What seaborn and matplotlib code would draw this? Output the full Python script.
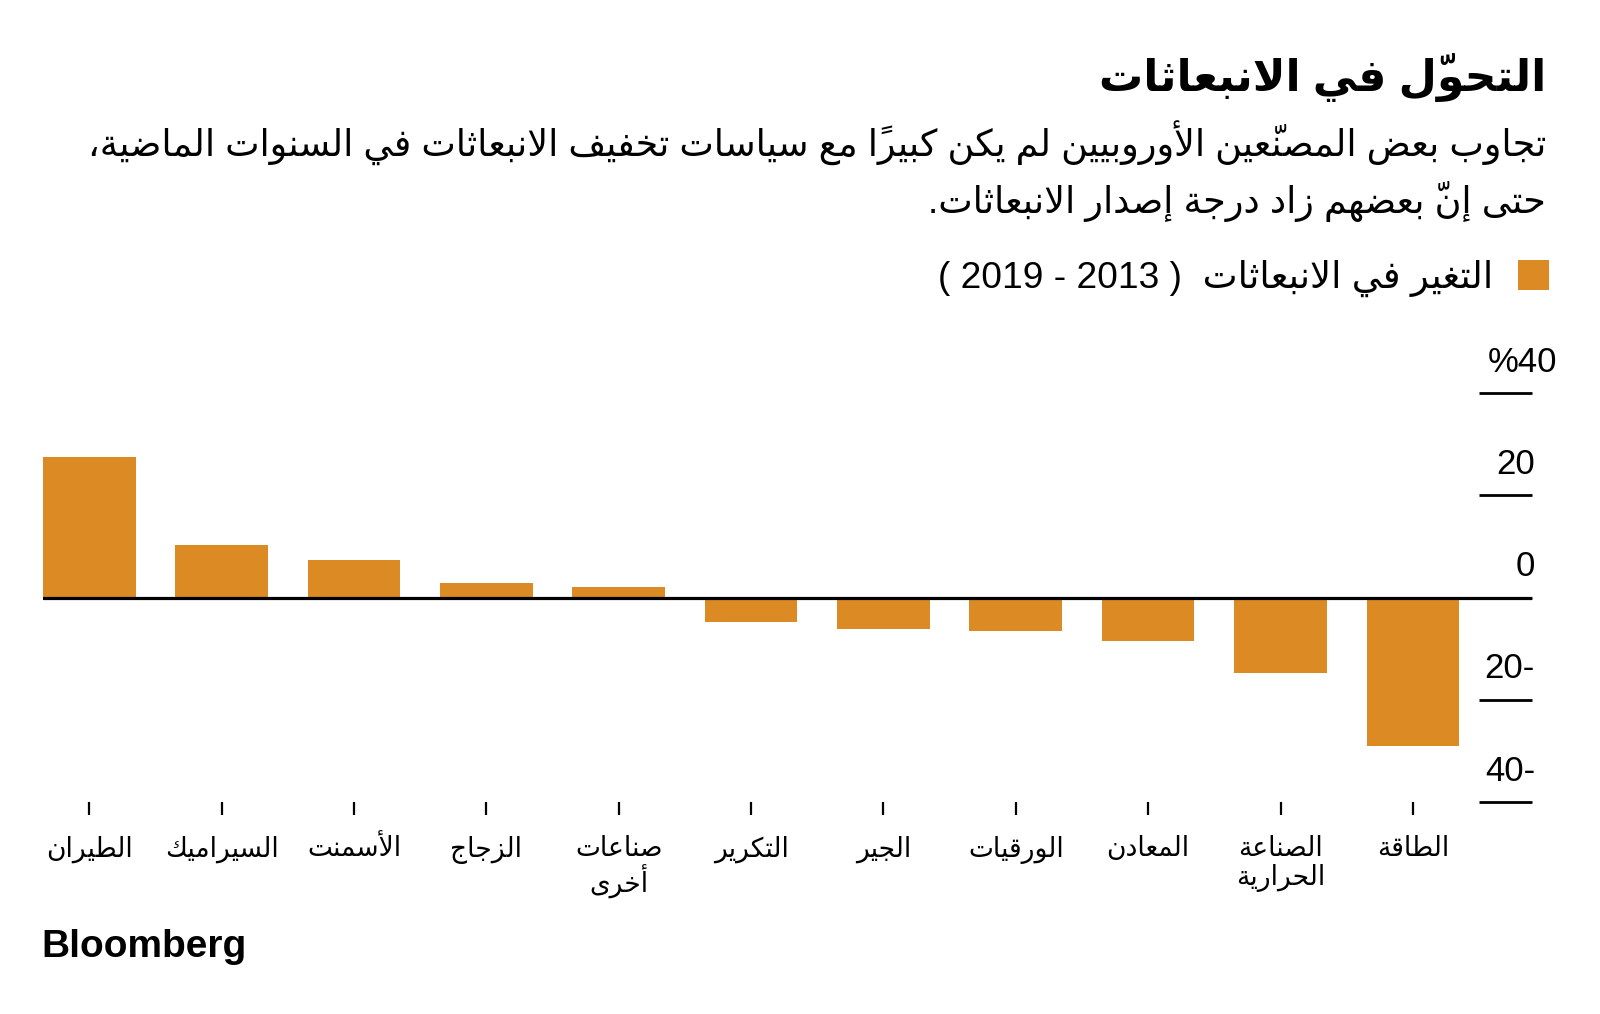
import matplotlib
matplotlib.use("Agg")
import matplotlib.pyplot as plt
import matplotlib.patches as mpatches
import matplotlib.transforms as mtransforms
import pandas as pd
import seaborn as sns

# ---- data (left to right as drawn) ----
categories = ["الطيران", "السيراميك", "الأسمنت", "الزجاج", "صناعات\nأخرى", "التكرير",
              "الجير", "الورقيات", "المعادن", "الصناعة\nالحرارية", "الطاقة"]
change_pct = [27.4, 10.2, 7.3, 2.8, 2.0, -4.7, -6.1, -6.6, -8.5, -14.7, -29.0]
y_ticks = [40, 20, 0, -20, -40]

title = "التحوّل في الانبعاثات"
subtitle_1 = "تجاوب بعض المصنّعين الأوروبيين لم يكن كبيرًا مع سياسات تخفيف الانبعاثات في السنوات الماضية،"
subtitle_2 = "حتى إنّ بعضهم زاد درجة إصدار الانبعاثات."
legend_label = "التغير في الانبعاثات  ( 2013 - 2019 )"
source = "Bloomberg"

bar_color = "#DC8A23"

# ---- minimal arabic shaping (presentation forms) + rtl ordering ----
_forms = {
    "ء": (0xFE80, 1), "آ": (0xFE81, 2), "أ": (0xFE83, 2), "ؤ": (0xFE85, 2),
    "إ": (0xFE87, 2), "ئ": (0xFE89, 4), "ا": (0xFE8D, 2), "ب": (0xFE8F, 4),
    "ة": (0xFE93, 2), "ت": (0xFE95, 4), "ث": (0xFE99, 4), "ج": (0xFE9D, 4),
    "ح": (0xFEA1, 4), "خ": (0xFEA5, 4), "د": (0xFEA9, 2), "ذ": (0xFEAB, 2),
    "ر": (0xFEAD, 2), "ز": (0xFEAF, 2), "س": (0xFEB1, 4), "ش": (0xFEB5, 4),
    "ص": (0xFEB9, 4), "ض": (0xFEBD, 4), "ط": (0xFEC1, 4), "ظ": (0xFEC5, 4),
    "ع": (0xFEC9, 4), "غ": (0xFECD, 4), "ف": (0xFED1, 4), "ق": (0xFED5, 4),
    "ك": (0xFED9, 4), "ل": (0xFEDD, 4), "م": (0xFEE1, 4), "ن": (0xFEE5, 4),
    "ه": (0xFEE9, 4), "و": (0xFEED, 2), "ى": (0xFEEF, 2), "ي": (0xFEF1, 4),
}
_lam_alef = {"آ": 0xFEF5, "أ": 0xFEF7, "إ": 0xFEF9, "ا": 0xFEFB}
for _c in _lam_alef.values():
    _forms[chr(_c)] = (_c, 2)
_harakat = {chr(c) for c in range(0x064B, 0x0653)} | {"\u0670"}
_mirror = {"(": ")", ")": "("}


def _ar_line(line):
    cl = []
    for ch in line:
        if ch in _harakat and cl:
            cl[-1][1] += ch
        elif cl and cl[-1][0] == "ل" and ch in _lam_alef:
            cl[-1][0] = chr(_lam_alef[ch])
        else:
            cl.append([ch, ""])
    shaped = []
    for i, (b, m) in enumerate(cl):
        inf = _forms.get(b)
        if inf is None:
            shaped.append((b, m))
            continue
        start, n = inf
        prev = _forms.get(cl[i - 1][0]) if i > 0 else None
        nxt = _forms.get(cl[i + 1][0]) if i + 1 < len(cl) else None
        jp = n >= 2 and prev is not None and prev[1] == 4
        jn = n == 4 and nxt is not None and nxt[1] >= 2
        code = start + (3 if jp and jn else 1 if jp else 2 if jn else 0)
        shaped.append((chr(code), m))
    runs = []
    for b, m in shaped:
        ltr = b.isascii() and b.isalnum()
        if ltr and runs and runs[-1][0]:
            runs[-1][1].append((b, m))
        else:
            runs.append([ltr, [(b, m)]])
    out = ""
    for ltr, items in reversed(runs):
        for b, m in items:
            # zero-width marks go before their letter so they sit on top of it
            out += m + (b if ltr else _mirror.get(b, b))
    return out


def ar(text):
    return "\n".join(_ar_line(l) for l in text.split("\n"))


# ---- figure ----
sns.set_theme(style="white")
plt.rcParams["font.family"] = ["Liberation Sans", "DejaVu Sans Condensed", "DejaVu Sans"]
plt.rcParams["text.color"] = "black"

W, H = 1600, 1014
fig = plt.figure(figsize=(W / 100, H / 100), dpi=100)
renderer = fig.canvas.get_renderer()


def fit_size(s, target_px, **kw):
    t = fig.text(0, 0, s, fontsize=20, **kw)
    w = t.get_window_extent(renderer=renderer).width
    t.remove()
    return 20 * target_px / w


ax = fig.add_axes([43 / W, 1 - 802 / H, (1532 - 43) / W, (802 - 393) / H])

df = pd.DataFrame({"sector": categories, "change": change_pct})
sns.barplot(data=df, x="sector", y="change", color=bar_color, saturation=1,
            width=0.7, errorbar=None, linewidth=0, ax=ax, zorder=2)
ax.axhline(0, color="black", lw=2.3, zorder=3)

ax.set_xlim(-0.35, 10.9)
ax.set_ylim(-40, 40)
ax.set_xlabel("")
ax.set_ylabel("")
for sp in ax.spines.values():
    sp.set_visible(False)

# y ticks: short lines on the right, labels sitting above them
ax.set_yticks(y_ticks)
ax.yaxis.tick_right()
ax.tick_params(axis="y", direction="in", length=38, width=2, color="black",
               labelright=False, labelleft=False)
lab_tr = mtransforms.offset_copy(ax.get_yaxis_transform(), fig=fig, x=0, y=21.5, units="dots")
for v in y_ticks:
    s = f"{abs(v)}" + ("-" if v < 0 else "")
    x = 1.002
    if v == max(y_ticks):
        s = "%" + s
        x = 1.0168
    ax.text(x, v, s, transform=lab_tr, ha="right", va="baseline", fontsize=25, color="black")

# x ticks with category names
cat_fs = fit_size(ar(categories[1]), 114)
ax.set_xticks(range(len(categories)))
ax.set_xticklabels([ar(c) for c in categories], fontsize=cat_fs, linespacing=1.1)
ax.tick_params(axis="x", direction="out", length=9.5, width=1.6, color="black",
               pad=15, bottom=True, labelcolor="black")

# titles
title_fs = fit_size(ar(title), 447, fontweight="bold")
fig.text(1546 / W, 1 - 77 / H, ar(title), ha="right", va="center",
         fontsize=title_fs, fontweight="bold")
sub_fs = fit_size(ar(subtitle_1), 1461)
fig.text(1546 / W, 1 - 143 / H, ar(subtitle_1), ha="right", va="center", fontsize=sub_fs)
fig.text(1546 / W, 1 - 201 / H, ar(subtitle_2), ha="right", va="center", fontsize=sub_fs)

# legend
leg_fs = fit_size(ar("التغير في الانبعاثات"), 291)
em = leg_fs * 100 / 72
handle = mpatches.Patch(facecolor=bar_color, edgecolor="none")
fig.legend(handles=[handle], labels=[ar(legend_label)], loc="center right",
           bbox_to_anchor=(1549 / W, 1 - 278.5 / H), frameon=False, markerfirst=False,
           fontsize=leg_fs, handlelength=31 / em, handleheight=31 / em,
           handletextpad=25 / em, borderpad=0, borderaxespad=0)

fig.text(41 / W, 1 - 947 / H, source, ha="left", va="center", fontsize=28,
         fontweight="bold", family="Liberation Sans")

fig.savefig("out.png", dpi=100)
